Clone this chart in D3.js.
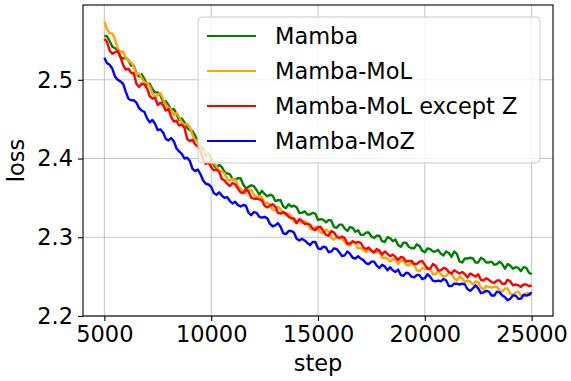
<!DOCTYPE html>
<html>
<head>
<meta charset="utf-8">
<script src="https://cdn.jsdelivr.net/npm/d3@7"></script>
<style>
  body { margin: 0; background: #fff; }
  svg { display: block; font-family: "DejaVu Sans", sans-serif; }
</style>
</head>
<body>
<svg id="chart" width="571" height="381"></svg>
<script>
// ===============================
// Dades
// ===============================
const steps = [
  5000, 5125, 5250, 5375, 5500, 5625, 5750, 5875, 6000, 6125,
  6250, 6375, 6500, 6625, 6750, 6875, 7000, 7125, 7250, 7375,
  7500, 7625, 7750, 7875, 8000, 8125, 8250, 8375, 8500, 8625,
  8750, 8875, 9000, 9125, 9250, 9375, 9500, 9625, 9750, 9875,
  10000, 10125, 10250, 10375, 10500, 10625, 10750, 10875, 11000, 11125,
  11250, 11375, 11500, 11625, 11750, 11875, 12000, 12125, 12250, 12375,
  12500, 12625, 12750, 12875, 13000, 13125, 13250, 13375, 13500, 13625,
  13750, 13875, 14000, 14125, 14250, 14375, 14500, 14625, 14750, 14875,
  15000, 15125, 15250, 15375, 15500, 15625, 15750, 15875, 16000, 16125,
  16250, 16375, 16500, 16625, 16750, 16875, 17000, 17125, 17250, 17375,
  17500, 17625, 17750, 17875, 18000, 18125, 18250, 18375, 18500, 18625,
  18750, 18875, 19000, 19125, 19250, 19375, 19500, 19625, 19750, 19875,
  20000, 20125, 20250, 20375, 20500, 20625, 20750, 20875, 21000, 21125,
  21250, 21375, 21500, 21625, 21750, 21875, 22000, 22125, 22250, 22375,
  22500, 22625, 22750, 22875, 23000, 23125, 23250, 23375, 23500, 23625,
  23750, 23875, 24000, 24125, 24250, 24375, 24500, 24625, 24750, 24875,
  25000
];

const lossMamba = [
  2.556, 2.555, 2.549, 2.542, 2.540, 2.538, 2.529, 2.527, 2.528, 2.525,
  2.518, 2.518, 2.508, 2.504, 2.507, 2.501, 2.494, 2.495, 2.488, 2.484,
  2.484, 2.480, 2.472, 2.473, 2.468, 2.462, 2.463, 2.457, 2.449, 2.451,
  2.446, 2.439, 2.436, 2.435, 2.429, 2.421, 2.416, 2.412, 2.404, 2.406,
  2.400, 2.391, 2.388, 2.392, 2.389, 2.383, 2.381, 2.380, 2.374, 2.373,
  2.375, 2.375, 2.367, 2.362, 2.364, 2.366, 2.365, 2.360, 2.354, 2.359,
  2.355, 2.352, 2.354, 2.353, 2.346, 2.347, 2.347, 2.339, 2.337, 2.342,
  2.339, 2.340, 2.338, 2.331, 2.331, 2.333, 2.329, 2.329, 2.331, 2.330,
  2.322, 2.323, 2.322, 2.319, 2.322, 2.321, 2.313, 2.312, 2.316, 2.316,
  2.311, 2.308, 2.313, 2.312, 2.307, 2.309, 2.303, 2.303, 2.306, 2.306,
  2.301, 2.299, 2.302, 2.302, 2.295, 2.294, 2.300, 2.299, 2.295, 2.297,
  2.290, 2.288, 2.293, 2.293, 2.288, 2.286, 2.286, 2.291, 2.289, 2.283,
  2.281, 2.286, 2.285, 2.282, 2.282, 2.284, 2.279, 2.277, 2.282, 2.280,
  2.275, 2.282, 2.279, 2.269, 2.268, 2.273, 2.273, 2.274, 2.273, 2.268,
  2.268, 2.274, 2.272, 2.268, 2.268, 2.269, 2.265, 2.266, 2.269, 2.266,
  2.260, 2.266, 2.264, 2.260, 2.262, 2.261, 2.257, 2.262, 2.261, 2.255,
  2.253
];

const lossMoL = [
  2.574, 2.564, 2.559, 2.559, 2.551, 2.540, 2.535, 2.536, 2.528, 2.524,
  2.522, 2.517, 2.507, 2.508, 2.502, 2.497, 2.496, 2.492, 2.483, 2.478,
  2.481, 2.483, 2.476, 2.468, 2.465, 2.462, 2.455, 2.458, 2.453, 2.445,
  2.443, 2.444, 2.440, 2.430, 2.423, 2.423, 2.413, 2.408, 2.408, 2.403,
  2.393, 2.395, 2.390, 2.384, 2.384, 2.381, 2.374, 2.372, 2.374, 2.373,
  2.365, 2.362, 2.358, 2.356, 2.360, 2.360, 2.354, 2.351, 2.352, 2.351,
  2.343, 2.344, 2.342, 2.335, 2.334, 2.339, 2.336, 2.331, 2.328, 2.330,
  2.327, 2.320, 2.318, 2.322, 2.318, 2.320, 2.318, 2.311, 2.310, 2.313,
  2.310, 2.306, 2.305, 2.310, 2.307, 2.299, 2.297, 2.300, 2.299, 2.299,
  2.294, 2.290, 2.290, 2.295, 2.292, 2.286, 2.286, 2.284, 2.281, 2.285,
  2.283, 2.280, 2.282, 2.282, 2.274, 2.274, 2.273, 2.269, 2.272, 2.272,
  2.266, 2.270, 2.270, 2.265, 2.264, 2.268, 2.265, 2.258, 2.257, 2.261,
  2.260, 2.261, 2.260, 2.253, 2.253, 2.257, 2.253, 2.250, 2.251, 2.255,
  2.254, 2.248, 2.245, 2.250, 2.248, 2.243, 2.245, 2.244, 2.240, 2.244,
  2.243, 2.236, 2.234, 2.238, 2.237, 2.236, 2.237, 2.237, 2.233, 2.231,
  2.235, 2.235, 2.228, 2.227, 2.230, 2.231, 2.226, 2.226, 2.229, 2.229,
  2.226
];

const lossMoLExceptZ = [
  2.552, 2.548, 2.537, 2.533, 2.535, 2.537, 2.529, 2.519, 2.513, 2.514,
  2.509, 2.508, 2.495, 2.491, 2.495, 2.494, 2.489, 2.479, 2.476, 2.477,
  2.468, 2.471, 2.468, 2.461, 2.463, 2.453, 2.447, 2.448, 2.442, 2.443,
  2.439, 2.425, 2.422, 2.424, 2.418, 2.415, 2.409, 2.398, 2.393, 2.395,
  2.389, 2.385, 2.386, 2.383, 2.374, 2.372, 2.368, 2.365, 2.369, 2.367,
  2.362, 2.357, 2.356, 2.361, 2.358, 2.350, 2.349, 2.349, 2.348, 2.347,
  2.340, 2.338, 2.340, 2.342, 2.339, 2.331, 2.330, 2.332, 2.330, 2.326,
  2.324, 2.324, 2.318, 2.323, 2.321, 2.317, 2.317, 2.316, 2.311, 2.309,
  2.313, 2.313, 2.308, 2.303, 2.302, 2.308, 2.306, 2.301, 2.299, 2.301,
  2.299, 2.292, 2.292, 2.295, 2.293, 2.294, 2.293, 2.287, 2.285, 2.287,
  2.283, 2.281, 2.285, 2.283, 2.278, 2.282, 2.279, 2.276, 2.278, 2.275,
  2.271, 2.275, 2.274, 2.269, 2.270, 2.270, 2.266, 2.266, 2.269, 2.270,
  2.265, 2.260, 2.260, 2.266, 2.264, 2.258, 2.258, 2.261, 2.260, 2.256,
  2.254, 2.258, 2.256, 2.254, 2.256, 2.253, 2.249, 2.254, 2.252, 2.250,
  2.253, 2.246, 2.245, 2.248, 2.246, 2.243, 2.242, 2.245, 2.245, 2.241,
  2.241, 2.246, 2.244, 2.239, 2.240, 2.239, 2.237, 2.240, 2.240, 2.238,
  2.239
];

const lossMoZ = [
  2.528, 2.521, 2.519, 2.514, 2.504, 2.500, 2.498, 2.495, 2.485, 2.476,
  2.474, 2.474, 2.471, 2.464, 2.461, 2.459, 2.451, 2.446, 2.449, 2.444,
  2.436, 2.437, 2.433, 2.425, 2.423, 2.426, 2.422, 2.413, 2.409, 2.406,
  2.400, 2.401, 2.397, 2.387, 2.384, 2.386, 2.380, 2.372, 2.368, 2.367,
  2.364, 2.356, 2.354, 2.357, 2.353, 2.350, 2.351, 2.346, 2.343, 2.345,
  2.341, 2.339, 2.341, 2.340, 2.331, 2.328, 2.332, 2.331, 2.326, 2.325,
  2.326, 2.324, 2.317, 2.314, 2.315, 2.318, 2.313, 2.305, 2.304, 2.308,
  2.308, 2.306, 2.298, 2.296, 2.298, 2.296, 2.293, 2.290, 2.294, 2.294,
  2.286, 2.285, 2.288, 2.287, 2.281, 2.282, 2.286, 2.285, 2.281, 2.276,
  2.277, 2.282, 2.279, 2.274, 2.273, 2.276, 2.273, 2.271, 2.267, 2.266,
  2.269, 2.269, 2.264, 2.261, 2.265, 2.263, 2.258, 2.262, 2.258, 2.256,
  2.259, 2.252, 2.251, 2.255, 2.254, 2.250, 2.249, 2.252, 2.252, 2.247,
  2.248, 2.253, 2.250, 2.245, 2.244, 2.245, 2.244, 2.247, 2.245, 2.238,
  2.238, 2.241, 2.241, 2.240, 2.241, 2.240, 2.234, 2.232, 2.235, 2.239,
  2.235, 2.229, 2.230, 2.232, 2.231, 2.226, 2.226, 2.231, 2.230, 2.226,
  2.224, 2.220, 2.222, 2.226, 2.226, 2.222, 2.222, 2.227, 2.226, 2.227,
  2.230
];

const seriesNames = ["Mamba", "Mamba-MoL", "Mamba-MoL except Z", "Mamba-MoZ"];
const seriesColors = ["green", "orange", "red", "blue"];
const seriesValues = [lossMamba, lossMoL, lossMoLExceptZ, lossMoZ];

const xTicks = [5000, 10000, 15000, 20000, 25000];
const yTicks = [2.2, 2.3, 2.4, 2.5];

// ===============================
// Escales
// ===============================
const svg = d3.select("#chart");
const plotLeft = 83, plotRight = 553, plotTop = 5, plotBottom = 316;

const x = d3.scaleLinear().domain([4000, 26000]).range([plotLeft, plotRight]);
const y = d3.scaleLinear().domain([2.2, 2.595]).range([plotBottom, plotTop]);

svg.append("defs").append("clipPath")
  .attr("id", "plot-clip")
  .append("rect")
  .attr("x", plotLeft).attr("y", plotTop)
  .attr("width", plotRight - plotLeft).attr("height", plotBottom - plotTop);

// graella
const grid = svg.append("g").attr("class", "grid");
grid.selectAll(".gx")
  .data(xTicks)
  .enter()
  .append("line")
  .attr("x1", d => x(d)).attr("x2", d => x(d))
  .attr("y1", plotTop).attr("y2", plotBottom)
  .attr("stroke", "#b0b0b0")
  .attr("stroke-opacity", 0.7)
  .attr("stroke-width", 1.1);
grid.selectAll(".gy")
  .data(yTicks)
  .enter()
  .append("line")
  .attr("x1", plotLeft).attr("x2", plotRight)
  .attr("y1", d => y(d)).attr("y2", d => y(d))
  .attr("stroke", "#b0b0b0")
  .attr("stroke-opacity", 0.7)
  .attr("stroke-width", 1.1);

// corbes
const line = d3.line()
  .x((d, i) => x(steps[i]))
  .y(d => y(d));

svg.append("g")
  .attr("clip-path", "url(#plot-clip)")
  .selectAll("path")
  .data(seriesValues)
  .enter()
  .append("path")
  .attr("d", d => line(d))
  .attr("fill", "none")
  .attr("stroke", (d, i) => seriesColors[i])
  .attr("stroke-width", 2.4)
  .attr("stroke-linejoin", "round");

// eixos
const xAxis = svg.append("g")
  .attr("transform", `translate(0, ${plotBottom})`)
  .call(d3.axisBottom(x).tickValues(xTicks).tickSize(5).tickPadding(5).tickFormat(d3.format("d")));

const yAxis = svg.append("g")
  .attr("transform", `translate(${plotLeft}, 0)`)
  .call(d3.axisLeft(y).tickValues(yTicks).tickSize(5).tickPadding(5).tickFormat(d3.format(".1f")));

[xAxis, yAxis].forEach(ax => {
  ax.select(".domain").remove();
  ax.selectAll("line").attr("stroke", "#000").attr("stroke-width", 1.1);
  ax.selectAll("text")
    .style("font-size", "22.5px")
    .style("font-family", "'DejaVu Sans', sans-serif")
    .attr("fill", "#000");
});

// marc
svg.append("rect")
  .attr("x", plotLeft).attr("y", plotTop)
  .attr("width", plotRight - plotLeft).attr("height", plotBottom - plotTop)
  .attr("fill", "none")
  .attr("stroke", "#000")
  .attr("stroke-width", 1.1);

// etiquetes
svg.append("text")
  .attr("x", (plotLeft + plotRight) / 2)
  .attr("y", 371)
  .attr("text-anchor", "middle")
  .style("font-size", "22.5px")
  .text("step");

svg.append("text")
  .attr("transform", `translate(24, ${(plotTop + plotBottom) / 2}) rotate(-90)`)
  .attr("text-anchor", "middle")
  .style("font-size", "22.5px")
  .text("loss");

// ===============================
// Llegenda
// ===============================
const legend = svg.append("g").attr("class", "legend");

legend.append("rect")
  .attr("x", 198).attr("y", 17)
  .attr("width", 342).attr("height", 146)
  .attr("rx", 4).attr("ry", 4)
  .attr("fill", "white")
  .attr("fill-opacity", 0.8)
  .attr("stroke", "#cccccc")
  .attr("stroke-width", 1);

const rows = legend.selectAll(".legend-row")
  .data(seriesNames)
  .enter()
  .append("g")
  .attr("class", "legend-row")
  .attr("transform", (d, i) => `translate(0, ${36 + i * 35})`);

rows.append("line")
  .attr("x1", 207).attr("x2", 256)
  .attr("y1", 0).attr("y2", 0)
  .attr("stroke", (d, i) => seriesColors[i])
  .attr("stroke-width", 2.2);

rows.append("text")
  .attr("x", 275)
  .attr("y", 8)
  .style("font-size", "22.5px")
  .text(d => d);
</script>
</body>
</html>
